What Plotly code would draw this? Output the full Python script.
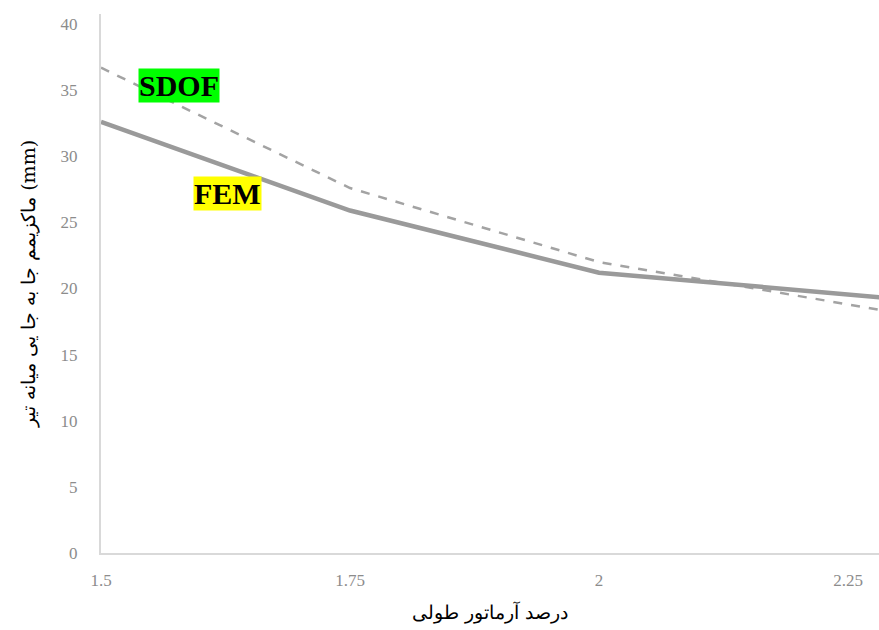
import plotly.graph_objects as go

# Longitudinal reinforcement ratio (%) and mid-span maximum displacement (mm)
reinf_pct = [1.5, 1.75, 2.0, 2.25, 2.5]
fem_disp = [32.6, 25.9, 21.2, 19.5, 17.9]
sdof_disp = [36.7, 27.6, 22.0, 18.8, 15.6]
x_ticks = [1.5, 1.75, 2.0, 2.25]
x_tick_text = ["1.5", "1.75", "2", "2.25"]
y_ticks = [0, 5, 10, 15, 20, 25, 30, 35, 40]

fig = go.Figure()
fig.add_trace(go.Scatter(x=reinf_pct, y=sdof_disp, mode="lines", name="SDOF",
                         line=dict(color="#a3a3a3", width=2.5, dash="dash")))
fig.add_trace(go.Scatter(x=reinf_pct, y=fem_disp, mode="lines", name="FEM",
                         line=dict(color="#9a9a9a", width=4.5)))

fig.add_annotation(x=1.5 + 0.25 * (178.5 - 101) / 249, y=(553 - 85) / 13.225,
                   text="<b>SDOF</b>", showarrow=False, bgcolor="#00ff00",
                   font=dict(family="Liberation Serif", size=30, color="black"),
                   borderpad=0)
fig.add_annotation(x=1.5 + 0.25 * (227.5 - 101) / 249, y=(553 - 193) / 13.225,
                   text="<b>FEM</b>", showarrow=False, bgcolor="#ffff00",
                   font=dict(family="Liberation Serif", size=30, color="black"),
                   borderpad=0)

fig.update_layout(
    width=879, height=630,
    margin=dict(l=101, r=0, t=14, b=77),
    paper_bgcolor="white", plot_bgcolor="white",
    showlegend=False,
    xaxis=dict(range=[1.5, 1.5 + 0.25 * (879 - 101) / 249],
               tickvals=x_ticks, ticktext=x_tick_text,
               showgrid=False, zeroline=False, showline=True,
               linecolor="#d9d9d9", linewidth=2,
               ticks="", ticklabelstandoff=11,
               tickfont=dict(family="Liberation Serif", size=17, color="#8c8c8c"),
               title=dict(text="درصد آرماتور طولی", standoff=16,
                          font=dict(family="DejaVu Serif, Liberation Serif", size=19, color="black"))),
    yaxis=dict(range=[0, 40.76], tickvals=y_ticks,
               showgrid=False, zeroline=False, showline=True,
               linecolor="#d9d9d9", linewidth=2,
               ticks="", ticklabelstandoff=18,
               tickfont=dict(family="Liberation Serif", size=17, color="#8c8c8c"),
               title=dict(text="ماکزیمم جا به جا یی میانه تیر (mm)", standoff=20,
                          font=dict(family="DejaVu Serif, Liberation Serif", size=19, color="black"))),
)

fig.write_html("out.html")
